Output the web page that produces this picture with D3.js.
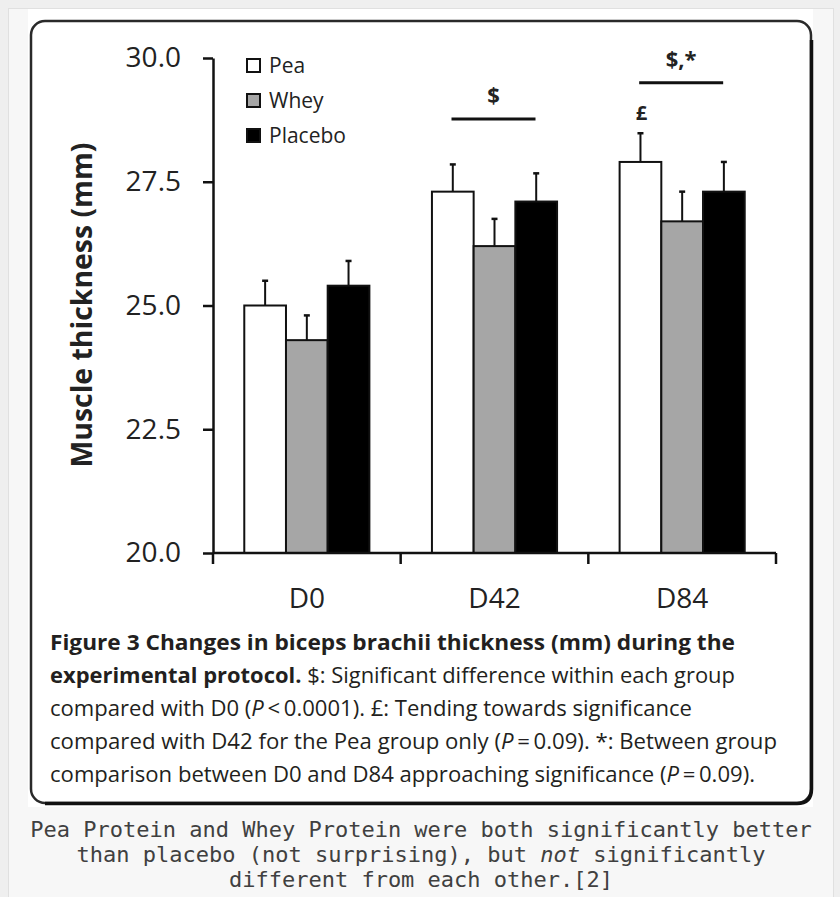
<!DOCTYPE html>
<html>
<head>
<meta charset="utf-8">
<script src="https://cdn.jsdelivr.net/npm/d3@7"></script>
<style>
  body { margin: 0; background: #efefef; }
  svg { display: block; }
</style>
</head>
<body>
<div id="chart"></div>
<script>
// values
const categories = ["D0", "D42", "D84"];
const series = ["Pea", "Whey", "Placebo"];
const peaValues = [25.0, 27.3, 27.9];
const wheyValues = [24.3, 26.2, 26.7];
const placeboValues = [25.4, 27.1, 27.3];
const peaErrors = [0.5, 0.55, 0.58];
const wheyErrors = [0.5, 0.55, 0.6];
const placeboErrors = [0.5, 0.57, 0.6];
const yTicks = [20, 22.5, 25, 27.5, 30];
const fills = ["#ffffff", "#a6a6a6", "#000000"];

// significance marks: category, label, level of the line
const sigCats = ["D42", "D84"];
const sigLabels = ["$", "$,*"];
const sigLevels = [28.77, 29.5];
const poundCat = "D84";
const poundLabel = "£";

const captionLines = [
  [{ t: "Figure 3 Changes in biceps brachii thickness (mm) during the", w: "bold" }],
  [{ t: "experimental protocol.", w: "bold" }, { t: " $: Significant difference within each group" }],
  [{ t: "compared with D0 (" }, { t: "P", i: true }, { t: "\u2009<\u20090.0001). £: Tending towards significance" }],
  [{ t: "compared with D42 for the Pea group only (" }, { t: "P", i: true }, { t: "\u2009=\u20090.09). *: Between group" }],
  [{ t: "comparison between D0 and D84 approaching significance (" }, { t: "P", i: true }, { t: "\u2009=\u20090.09)." }]
];
const captionWidths = [685, 685, 642, 727, 705];

const noteLines = [
  [{ t: "Pea Protein and Whey Protein were both significantly better" }],
  [{ t: "than placebo (not surprising), but " }, { t: "not", i: true }, { t: " significantly" }],
  [{ t: "different from each other.[2]" }]
];

const valuesBySeries = [peaValues, wheyValues, placeboValues];
const errorsBySeries = [peaErrors, wheyErrors, placeboErrors];
const data = categories.map((c, i) => ({
  cat: c,
  bars: series.map((s, j) => ({ s, si: j, cat: c, v: valuesBySeries[j][i], e: errorsBySeries[j][i] }))
}));

const W = 840, H = 897;
const svg = d3.select("#chart").append("svg").attr("width", W).attr("height", H);

// page frame + white figure + rounded box
svg.append("rect").attr("x", 8.5).attr("y", 8.5).attr("width", 825).attr("height", 900)
  .attr("fill", "#f7f7f7").attr("stroke", "#e0e0e0");
svg.append("rect").attr("x", 28).attr("y", 9).attr("width", 785).attr("height", 798).attr("fill", "#fff");
svg.append("rect").attr("x", 31).attr("y", 21).attr("width", 780).attr("height", 782)
  .attr("rx", 14).attr("fill", "none").attr("stroke", "#2a2a2a").attr("stroke-width", 2.5);
// darker shadow edge on right and bottom
svg.append("path")
  .attr("d", "M811.5,40 V789 Q811.5,803.5 797,803.5 H45")
  .attr("fill", "none").attr("stroke", "#111").attr("stroke-width", 3.5);

// scales
const x0 = d3.scaleBand().domain(categories).range([213, 776]).paddingInner(0).paddingOuter(0);
const x1 = d3.scaleBand().domain(series).range([0, x0.bandwidth()]).paddingInner(0).paddingOuter(0.75);
const y = d3.scaleLinear().domain([20, 30]).range([553, 58]);

const font = "'Open Sans', 'Noto Sans', sans-serif";

// y axis
const yAxis = svg.append("g").attr("transform", "translate(213,0)")
  .call(d3.axisLeft(y).tickValues(yTicks).tickFormat(d3.format(".1f")).tickSize(10).tickSizeOuter(0).tickPadding(22));
yAxis.select(".domain").attr("stroke", "#111").attr("stroke-width", 2.5);
yAxis.selectAll(".tick line").attr("stroke", "#111").attr("stroke-width", 2.5);
yAxis.selectAll(".tick text").attr("font-family", font).attr("font-size", 28).attr("fill", "#222");

svg.append("text")
  .attr("transform", "translate(92,305) rotate(-90)")
  .attr("text-anchor", "middle")
  .attr("font-family", font).attr("font-weight", "bold").attr("font-size", 29).attr("fill", "#222")
  .attr("textLength", 325).attr("lengthAdjust", "spacingAndGlyphs")
  .text("Muscle thickness (mm)");

// bars
const groups = svg.selectAll("g.cat").data(data).join("g")
  .attr("class", "cat")
  .attr("transform", d => `translate(${x0(d.cat)},0)`);

groups.selectAll("rect").data(d => d.bars).join("rect")
  .attr("x", d => x1(d.s))
  .attr("y", d => y(d.v))
  .attr("width", x1.bandwidth())
  .attr("height", d => y(20) - y(d.v))
  .attr("fill", d => fills[d.si])
  .attr("stroke", "#111").attr("stroke-width", 2);

// error bars (upper only)
const err = groups.selectAll("g.err").data(d => d.bars).join("g").attr("class", "err");
err.append("line")
  .attr("x1", d => x1(d.s) + x1.bandwidth() / 2).attr("x2", d => x1(d.s) + x1.bandwidth() / 2)
  .attr("y1", d => y(d.v)).attr("y2", d => y(d.v + d.e))
  .attr("stroke", "#111").attr("stroke-width", 2);
err.append("line")
  .attr("x1", d => x1(d.s) + x1.bandwidth() / 2 - 3).attr("x2", d => x1(d.s) + x1.bandwidth() / 2 + 3)
  .attr("y1", d => y(d.v + d.e)).attr("y2", d => y(d.v + d.e))
  .attr("stroke", "#111").attr("stroke-width", 2.5);

// x axis
svg.append("line").attr("x1", 213).attr("x2", 776).attr("y1", y(20)).attr("y2", y(20))
  .attr("stroke", "#111").attr("stroke-width", 2.5);
const bounds = categories.map(c => x0(c)).concat([x0.range()[1]]);
svg.selectAll("line.xtick").data(bounds).join("line").attr("class", "xtick")
  .attr("x1", d => d).attr("x2", d => d)
  .attr("y1", y(20)).attr("y2", y(20) + 11)
  .attr("stroke", "#111").attr("stroke-width", 2.5);
svg.selectAll("text.xlab").data(categories).join("text").attr("class", "xlab")
  .attr("x", d => x0(d) + x0.bandwidth() / 2)
  .attr("y", 608)
  .attr("text-anchor", "middle")
  .attr("font-family", font).attr("font-size", 28).attr("fill", "#222")
  .text(d => d);

// legend
const legend = svg.selectAll("g.legend").data(series).join("g").attr("class", "legend")
  .attr("transform", (d, i) => `translate(247,${59 + i * 35})`);
legend.append("rect").attr("width", 13).attr("height", 13)
  .attr("fill", (d, i) => fills[i]).attr("stroke", "#111").attr("stroke-width", 2);
legend.append("text").attr("x", 22).attr("y", 14)
  .attr("font-family", font).attr("font-size", 21).attr("fill", "#222")
  .text(d => d);

// significance lines
const sig = svg.selectAll("g.sig").data(sigCats).join("g").attr("class", "sig");
sig.append("line")
  .attr("x1", d => x0(d) + x0.bandwidth() / 2 - 43).attr("x2", d => x0(d) + x0.bandwidth() / 2 + 41)
  .attr("y1", (d, i) => y(sigLevels[i])).attr("y2", (d, i) => y(sigLevels[i]))
  .attr("stroke", "#111").attr("stroke-width", 3);
sig.append("text")
  .attr("x", d => x0(d) + x0.bandwidth() / 2 - 1)
  .attr("y", (d, i) => y(sigLevels[i]) - 16)
  .attr("text-anchor", "middle")
  .attr("font-family", font).attr("font-weight", "bold").attr("font-size", 22).attr("fill", "#222")
  .text((d, i) => sigLabels[i]);

const pIdx = categories.indexOf(poundCat);
svg.append("text")
  .attr("x", x0(poundCat) + x1("Pea") + x1.bandwidth() / 2 + 1)
  .attr("y", y(peaValues[pIdx] + peaErrors[pIdx]) - 13)
  .attr("text-anchor", "middle")
  .attr("font-family", font).attr("font-weight", "bold").attr("font-size", 20).attr("fill", "#222")
  .text(poundLabel);

// figure caption inside the box
captionLines.forEach((line, i) => {
  const t = svg.append("text")
    .attr("x", 50).attr("y", 650 + i * 33)
    .attr("font-family", font).attr("font-size", 21).attr("fill", "#231f20")
    .attr("textLength", captionWidths[i]).attr("lengthAdjust", "spacingAndGlyphs");
  line.forEach(p => {
    t.append("tspan").attr("font-weight", p.w || "normal")
      .attr("font-style", p.i ? "italic" : "normal").text(p.t);
  });
});

// page note below the figure
noteLines.forEach((line, i) => {
  const t = svg.append("text")
    .attr("x", 421).attr("y", 837 + i * 25)
    .attr("text-anchor", "middle")
    .attr("font-family", "'DejaVu Sans Mono', monospace").attr("font-size", 22)
    .attr("fill", "#404040");
  line.forEach(p => {
    t.append("tspan").attr("font-style", p.i ? "italic" : "normal").text(p.t);
  });
});
</script>
</body>
</html>
